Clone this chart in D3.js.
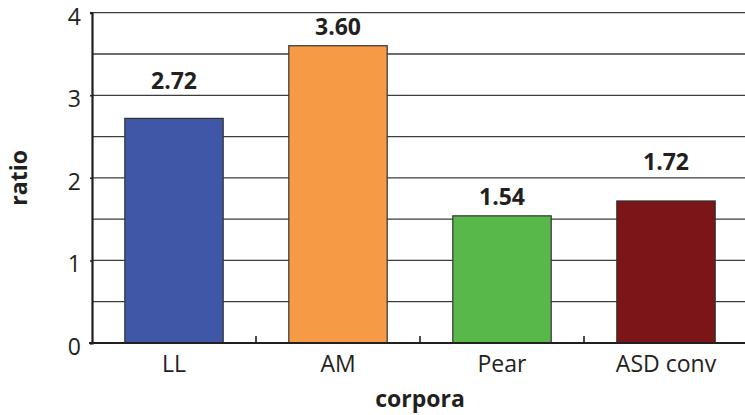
<!DOCTYPE html>
<html>
<head>
<meta charset="utf-8">
<script src="https://cdn.jsdelivr.net/npm/d3@7"></script>
<style>
  html, body { margin: 0; padding: 0; background: #fff; }
  svg { display: block; font-family: "Open Sans", "Noto Sans", sans-serif; }
</style>
</head>
<body>
<svg id="chart" width="745" height="415"></svg>
<script>
// Corpus ratios
const categories = ["LL", "AM", "Pear", "ASD conv"];
const ratios = [2.72, 3.60, 1.54, 1.72];
const valueLabels = ["2.72", "3.60", "1.54", "1.72"];
const yTickValues = [0, 1, 2, 3, 4];
const gridValues = [0.5, 1, 1.5, 2, 2.5, 3, 3.5, 4];

// Bar fills and how far each value label sits above its bar
const barColors = ["#3f57a6", "#f69a45", "#58b94a", "#7b1517"];
const labelLift = [29, 11, 11, 31];

const svg = d3.select("#chart");
const plotLeft = 92, plotRight = 748, plotTop = 12.7, plotBottom = 343;

const x = d3.scaleBand()
  .domain(categories)
  .range([plotLeft, plotRight])
  .paddingInner(0.4)
  .paddingOuter(0.2);

const y = d3.scaleLinear().domain([0, 4]).range([plotBottom, plotTop]);

// Horizontal gridlines
svg.append("g")
  .selectAll("line")
  .data(gridValues)
  .join("line")
  .attr("x1", plotLeft)
  .attr("x2", 745)
  .attr("y1", d => y(d))
  .attr("y2", d => y(d))
  .attr("stroke", "#3c3c3c")
  .attr("stroke-width", 1.3);

// Bars
svg.append("g")
  .selectAll("rect")
  .data(categories)
  .join("rect")
  .attr("x", d => x(d))
  .attr("y", (d, i) => y(ratios[i]))
  .attr("width", x.bandwidth())
  .attr("height", (d, i) => y(0) - y(ratios[i]))
  .attr("fill", (d, i) => barColors[i])
  .attr("stroke", "#333")
  .attr("stroke-width", 1.2);

// Value labels
svg.append("g")
  .selectAll("text")
  .data(categories)
  .join("text")
  .attr("x", d => x(d) + x.bandwidth() / 2)
  .attr("y", (d, i) => y(ratios[i]) - labelLift[i])
  .attr("text-anchor", "middle")
  .attr("font-size", 23)
  .attr("font-weight", "bold")
  .attr("fill", "#231f20")
  .text((d, i) => valueLabels[i]);

// Y axis
const yAxis = d3.axisLeft(y)
  .tickValues(yTickValues)
  .tickFormat(d3.format("d"))
  .tickSize(2)
  .tickPadding(9);
const gy = svg.append("g")
  .attr("transform", `translate(${plotLeft},0)`)
  .call(yAxis);
gy.select(".domain").attr("stroke", "#231f20").attr("stroke-width", 2.2);
gy.selectAll(".tick line").attr("stroke", "#231f20").attr("stroke-width", 1.5);
gy.selectAll(".tick text")
  .attr("font-size", 23)
  .attr("font-family", "'Open Sans', sans-serif")
  .attr("fill", "#231f20")
  .attr("dy", "0.5em");

// X axis: baseline, boundary ticks between categories, labels
const step = x.step();
svg.append("line")
  .attr("x1", plotLeft - 3)
  .attr("x2", 745)
  .attr("y1", plotBottom)
  .attr("y2", plotBottom)
  .attr("stroke", "#231f20")
  .attr("stroke-width", 2.2);

svg.append("g")
  .selectAll("line")
  .data(categories.slice(1))
  .join("line")
  .attr("x1", d => x(d) - step * x.paddingOuter())
  .attr("x2", d => x(d) - step * x.paddingOuter())
  .attr("y1", plotBottom)
  .attr("y2", plotBottom - 7)
  .attr("stroke", "#231f20")
  .attr("stroke-width", 1.6);

svg.append("g")
  .selectAll("text")
  .data(categories)
  .join("text")
  .attr("x", d => x(d) + x.bandwidth() / 2)
  .attr("y", plotBottom + 29)
  .attr("text-anchor", "middle")
  .attr("font-size", 23)
  .attr("fill", "#231f20")
  .text(d => d);

// Axis titles
svg.append("text")
  .attr("x", (plotLeft + plotRight) / 2)
  .attr("y", 407)
  .attr("text-anchor", "middle")
  .attr("font-size", 23)
  .attr("font-weight", "bold")
  .attr("fill", "#231f20")
  .text("corpora");

svg.append("text")
  .attr("transform", `translate(27,${(plotTop + plotBottom) / 2}) rotate(-90)`)
  .attr("text-anchor", "middle")
  .attr("font-size", 23)
  .attr("font-weight", "bold")
  .attr("fill", "#231f20")
  .text("ratio");
</script>
</body>
</html>
